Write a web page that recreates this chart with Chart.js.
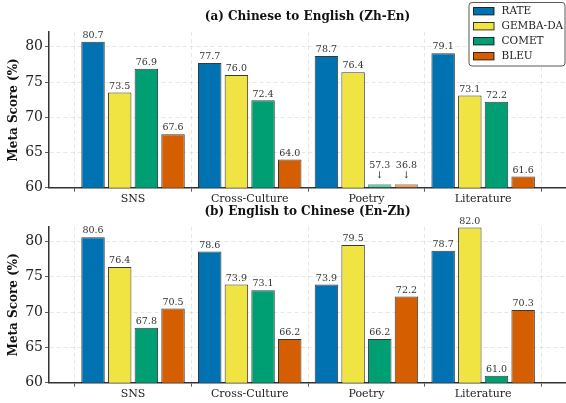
<!DOCTYPE html>
<html>
<head>
<meta charset="utf-8">
<script src="https://cdn.jsdelivr.net/npm/chart.js@4.4.1/dist/chart.umd.min.js"></script>
<style>
  html, body { margin: 0; padding: 0; background: #fff; overflow: hidden; }
  #wrap { position: relative; width: 566px; height: 403px; }
  .box { position: absolute; left: 0; width: 566px; }
  #b1 { top: 0; height: 206px; }
  #b2 { top: 203px; height: 200px; }
</style>
</head>
<body>
<div id="wrap">
  <div class="box" id="b1"><canvas id="c1"></canvas></div>
  <div class="box" id="b2"><canvas id="c2"></canvas></div>
</div>
<script>
// ---- data ----
const categories = ['SNS', 'Cross-Culture', 'Poetry', 'Literature'];
const seriesNames = ['RATE', 'GEMBA-DA', 'COMET', 'BLEU'];
const seriesColors = ['#0072B2', '#F0E442', '#009E73', '#D55E00'];
const seriesColorsFaded = ['rgba(0,114,178,0.6)', 'rgba(240,228,66,0.6)', 'rgba(0,158,115,0.6)', 'rgba(213,94,0,0.6)'];

const zhEnRATE  = [80.7, 77.7, 78.7, 79.1];
const zhEnGEMBA = [73.5, 76.0, 76.4, 73.1];
const zhEnCOMET = [76.9, 72.4, 57.3, 72.2];
const zhEnBLEU  = [67.6, 64.0, 36.8, 61.6];

const enZhRATE  = [80.6, 78.6, 73.9, 78.7];
const enZhGEMBA = [76.4, 73.9, 79.5, 82.0];
const enZhCOMET = [67.8, 73.1, 66.2, 61.0];
const enZhBLEU  = [70.5, 66.2, 72.2, 70.3];

const yTicks = [60, 65, 70, 75, 80];
const yMin = 60, yMax = 82.1;
const stubHeight = 0.5;

const SERIF = '"DejaVu Serif", "Liberation Serif", serif';

function makeDatasets(seriesArrays) {
  return seriesArrays.map((arr, si) => ({
    label: seriesNames[si],
    realValues: arr,
    data: arr.map((v, i) => ({ x: i, y: v < yMin ? yMin + stubHeight : v })),
    backgroundColor: arr.map(v => v < yMin ? seriesColorsFaded[si] : seriesColors[si]),
    borderColor: arr.map(v => v < yMin ? 'rgba(0,0,0,0.45)' : 'rgba(0,0,0,0.78)'),
    borderWidth: 1,
    categoryPercentage: 0.914,
    barPercentage: 0.88
  }));
}

const valueLabels = {
  id: 'valueLabels',
  afterDatasetsDraw(chart) {
    const ctx = chart.ctx;
    ctx.save();
    ctx.fillStyle = '#333';
    ctx.font = '9.5px ' + SERIF;
    ctx.textAlign = 'center';
    ctx.textBaseline = 'middle';
    chart.data.datasets.forEach((ds, di) => {
      const meta = chart.getDatasetMeta(di);
      meta.data.forEach((bar, i) => {
        const v = ds.realValues[i];
        const txt = v.toFixed(1);
        if (v < yMin) {
          ctx.fillText('↓', bar.x, bar.y - 8.5);
          ctx.fillText(txt, bar.x, bar.y - 19);
        } else {
          ctx.fillText(txt, bar.x, bar.y - 6.3);
        }
      });
    });
    ctx.restore();
  }
};

const customLegend = {
  id: 'customLegend',
  afterDraw(chart, args, opts) {
    if (!opts.show) return;
    const ctx = chart.ctx;
    const left = 469, top = 2.5, w = 96, h = 63.5, r = 3;
    ctx.save();
    ctx.beginPath();
    ctx.roundRect(left, top, w, h, r);
    ctx.fillStyle = 'rgba(255,255,255,0.85)';
    ctx.fill();
    ctx.strokeStyle = 'rgba(60,60,60,0.85)';
    ctx.lineWidth = 1;
    ctx.stroke();
    ctx.font = '10.5px ' + SERIF;
    ctx.textBaseline = 'middle';
    ctx.textAlign = 'left';
    chart.data.datasets.forEach((ds, i) => {
      const cy = top + 8.7 + i * 15;
      ctx.fillStyle = seriesColors[i];
      ctx.fillRect(473.5, cy - 3.7, 20.5, 7.4);
      ctx.strokeStyle = 'rgba(0,0,0,0.78)';
      ctx.lineWidth = 1;
      ctx.strokeRect(473.5, cy - 3.7, 20.5, 7.4);
      ctx.fillStyle = '#222';
      ctx.fillText(ds.label, 501.5, cy + 0.5);
    });
    ctx.restore();
  }
};

function makeChart(canvasId, titleText, seriesArrays, opt) {
  return new Chart(document.getElementById(canvasId), {
    type: 'bar',
    data: { datasets: makeDatasets(seriesArrays) },
    plugins: [valueLabels, customLegend],
    options: {
      responsive: true,
      maintainAspectRatio: false,
      animation: false,
      layout: { padding: { left: 0, right: 0, top: 0, bottom: 0 } },
      plugins: {
        legend: { display: false },
        tooltip: { enabled: false },
        customLegend: { show: opt.legend },
        title: {
          display: true,
          text: titleText,
          fullSize: false,
          color: '#111',
          font: { family: SERIF, size: 12, weight: 'bold', lineHeight: 1.2 },
          padding: { top: opt.titleTop, bottom: opt.titleBottom }
        }
      },
      scales: {
        x: {
          type: 'linear',
          offset: false,
          min: -0.72,
          max: 3.71,
          afterBuildTicks(scale) { scale.ticks = categories.map((c, i) => ({ value: i })); },
          afterFit(scale) { scale.height = opt.xHeight; },
          ticks: {
            callback: (v) => categories[v] ?? '',
            color: '#222',
            font: { family: SERIF, size: 11 },
            padding: 1,
            maxRotation: 0,
            autoSkip: false
          },
          grid: {
            color: 'rgba(0,0,0,0.12)',
            tickColor: '#333',
            tickBorderDash: [],
            tickLength: 4,
            lineWidth: 0.8
          },
          border: { color: '#333', width: 1.5, dash: [4, 3] }
        },
        y: {
          min: yMin,
          max: yMax,
          afterBuildTicks(scale) { scale.ticks = yTicks.map(v => ({ value: v })); },
          afterFit(scale) { scale.width = 49; },
          ticks: {
            color: '#222',
            font: { family: SERIF, size: 14 },
            padding: 2
          },
          title: {
            display: true,
            text: 'Meta Score (%)',
            color: '#111',
            font: { family: SERIF, size: 12, weight: 'bold', lineHeight: 1.2 },
            padding: { top: 7, bottom: 0 }
          },
          grid: {
            color: 'rgba(0,0,0,0.12)',
            tickColor: '#333',
            tickBorderDash: [],
            tickLength: 4,
            lineWidth: 0.8
          },
          border: { color: '#333', width: 1.5, dash: [4, 3] }
        }
      }
    }
  });
}

makeChart('c1', '(a) Chinese to English (Zh-En)',
  [zhEnRATE, zhEnGEMBA, zhEnCOMET, zhEnBLEU],
  { legend: true, titleTop: 9.8, titleBottom: 7.8, xHeight: 18.3 });
makeChart('c2', '(b) English to Chinese (En-Zh)',
  [enZhRATE, enZhGEMBA, enZhCOMET, enZhBLEU],
  { legend: false, titleTop: 1.8, titleBottom: 7.5, xHeight: 20.3 });
</script>
</body>
</html>
